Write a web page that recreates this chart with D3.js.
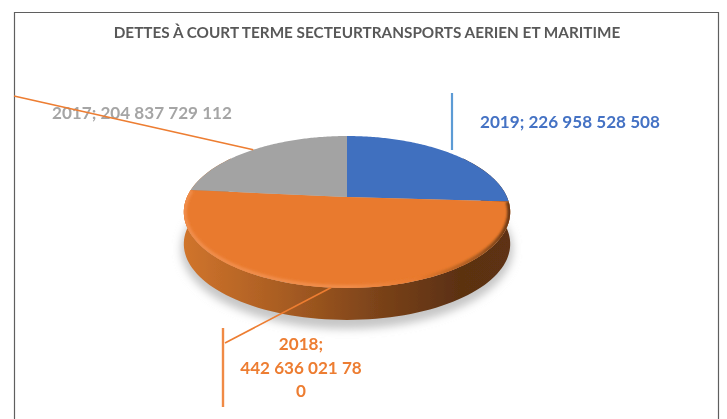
<!DOCTYPE html>
<html><head><meta charset="utf-8">
<script src="https://cdnjs.cloudflare.com/ajax/libs/d3/7.8.5/d3.min.js"></script>
<style>html,body{margin:0;padding:0;background:#fff}svg{display:block}</style></head>
<body><div id="c"></div>
<script>
const title = "DETTES À COURT TERME SECTEURTRANSPORTS AERIEN ET MARITIME";
const categories = ["2019", "2018", "2017"];
const values = [226958528508, 442636021780, 204837729112];
const valueLabels = ["226 958 528 508", "442 636 021 780", "204 837 729 112"];
const colors = ["#3f6fbf", "#e97a2e", "#a3a3a3"];
const textColors = ["#4472c4", "#ed7d31", "#a5a5a5"];

const W = 727, H = 419;
const cx = 347, cy = 197, depth = 32;
const k = 0.197, A = 73, B = 160;
const project = a => {
  const u = Math.sin(a), v = Math.cos(a), w = 1 + k * v;
  return [cx + B * u / w, cy - A * v / w];
};
const line = d3.line();
const arcPts = (a0, a1) => d3.range(0, 121).map(i => project(a0 + (a1 - a0) * i / 120));

const svg = d3.select("#c").append("svg").attr("width", W).attr("height", H);
const defs = svg.append("defs");
const f = (id, s) => defs.append("filter").attr("id", id)
  .attr("x", "-20%").attr("y", "-20%").attr("width", "140%").attr("height", "140%")
  .append("feGaussianBlur").attr("stdDeviation", s);
f("soft", 0.7); f("shadow", 4); f("bevel", 1.2);
const grad = (id, stops) => {
  const g = defs.append("linearGradient").attr("id", id)
    .attr("gradientUnits", "userSpaceOnUse")
    .attr("x1", cx - 163).attr("x2", cx + 163).attr("y1", 0).attr("y2", 0);
  stops.forEach(s => g.append("stop").attr("offset", s[0]).attr("stop-color", s[1]));
};
grad("side", [[0, "#d0742c"], [0.3, "#a95d22"], [0.6, "#7a4219"], [0.85, "#5b3011"], [1, "#5e3212"]]);
grad("rim", [[0, "#f08c49"], [0.5, "#f08c49"], [0.72, "#e97a2e"], [0.9, "#a55a22"], [1, "#6a3815"]]);

const root = svg.append("g").attr("filter", "url(#soft)");

// frame
root.append("path").attr("d", `M14.5,${H} V12.5 H718.5 V${H}`)
  .attr("fill", "none").attr("stroke", "#5f5f5f").attr("stroke-width", 1.2);

root.append("text").attr("x", 367).attr("y", 38).attr("text-anchor", "middle")
  .attr("font-family", "Lato, sans-serif").attr("font-weight", 700).attr("font-size", 15.3)
  .attr("fill", "#595959").text(title);

const slices = d3.pie().value(d => d).sort(null)(values);

// ground shadow
root.append("ellipse").attr("cx", cx).attr("cy", 249).attr("rx", 166).attr("ry", 80)
  .attr("fill", "#c6c6c6").attr("filter", "url(#shadow)");

// side wall
const wallFront = arcPts(Math.PI * 0.3, Math.PI * 1.7);
const back = wallFront.map(p => [p[0], p[1] + depth]).reverse();
root.append("path").attr("d", line(wallFront.concat(back)) + "Z").attr("fill", "url(#side)");

// top face slices
const slicePath = d => {
  const pts = arcPts(d.startAngle, d.endAngle);
  return "M" + cx + "," + cy + "L" + pts.map(p => p.join(",")).join("L") + "Z";
};
root.append("g").selectAll("path").data(slices).join("path")
  .attr("d", slicePath).attr("fill", (d, i) => colors[i]);

// bevel along the rim of the large slice
defs.append("clipPath").attr("id", "faceClip").append("path").attr("d", slicePath(slices[1]));
root.append("g").attr("clip-path", "url(#faceClip)")
  .append("path").attr("d", line(arcPts(slices[1].startAngle, slices[1].endAngle)))
  .attr("fill", "none").attr("stroke", "url(#rim)").attr("stroke-width", 6)
  .attr("filter", "url(#bevel)");

// labels
const lab = (x, y, t, c, anchor) => root.append("text").attr("x", x).attr("y", y)
  .attr("text-anchor", anchor).attr("font-family", "Lato, sans-serif")
  .attr("font-weight", 700).attr("font-size", 17.1).attr("fill", c).text(t);
lab(52, 119, categories[2] + "; " + valueLabels[2], textColors[2], "start");
lab(480, 128, categories[0] + "; " + valueLabels[0], textColors[0], "start");
const l2018 = [categories[1] + ";", valueLabels[1].slice(0, -1), valueLabels[1].slice(-1)];
l2018.forEach((t, i) => lab(301, 350 + i * 23.5, t, textColors[1], "middle"));

// leader lines
const mid = d => (d.startAngle + d.endAngle) / 2;
const anchors = slices.map(d => project(mid(d)));
const leaders = [
  [[anchors[1], [225, 343]], "#ed7d31"],
  [[anchors[2], [14, 96]], "#ed7d31"]
];
leaders.forEach(([pts, c]) => root.append("path").attr("d", line(pts))
  .attr("fill", "none").attr("stroke", c).attr("stroke-width", 1.6));
root.append("path").attr("d", "M452,93V150").attr("stroke", "#5b9bd5").attr("stroke-width", 2.2);
root.append("path").attr("d", "M223,328V407").attr("stroke", "#f08a45").attr("stroke-width", 2.4);
</script></body></html>
